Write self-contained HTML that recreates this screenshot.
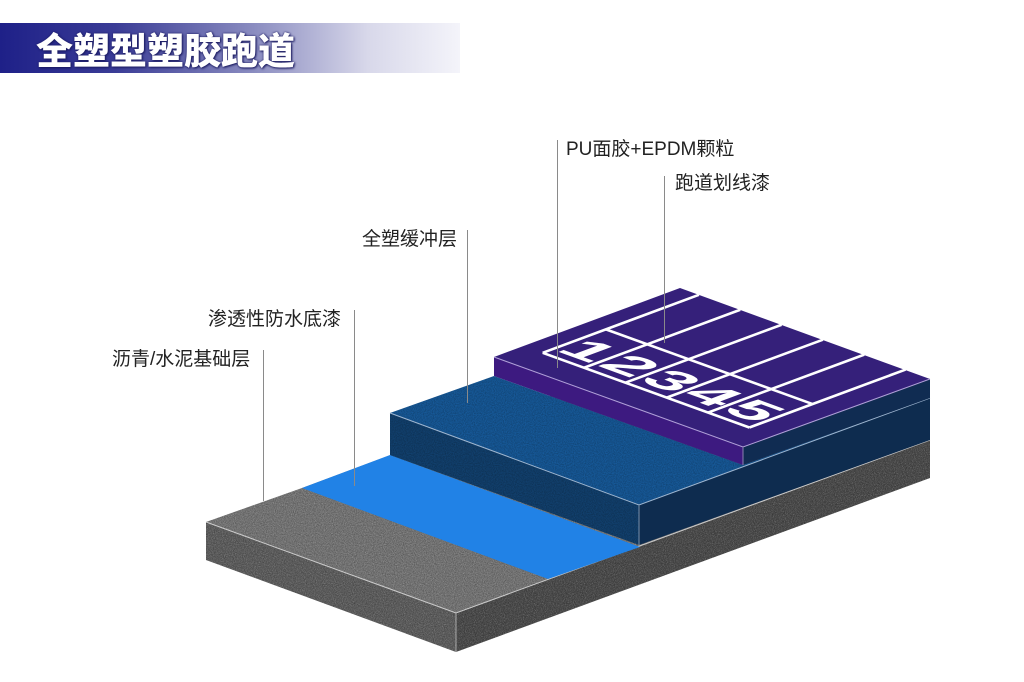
<!DOCTYPE html>
<html><head><meta charset="utf-8"><style>
html,body{margin:0;padding:0;background:#fff;width:1024px;height:682px;overflow:hidden}
.lbl{position:absolute;font-family:"Liberation Sans","Noto Sans CJK SC",sans-serif;font-size:19px;color:#222;white-space:nowrap;line-height:22px}
</style></head><body>
<div style="position:absolute;left:0;top:23px;width:460px;height:50px;background:linear-gradient(90deg,#1e2088 0%,#3a3c96 25%,#8a8cc0 55%,#d8d8ea 80%,#f4f4fa 100%)"></div>
<div style="position:absolute;left:36px;top:27px;font-family:'Noto Sans CJK SC',sans-serif;font-weight:900;font-size:37px;line-height:42px;color:#fff;letter-spacing:0;text-shadow:0 0 2px #1a1a60,1px 1px 2px #1a1a60">全塑型塑胶跑道</div>
<svg width="1024" height="682" style="position:absolute;left:0;top:0">
<defs>
<filter id="n" x="0" y="0" width="100%" height="100%">
<feTurbulence type="fractalNoise" baseFrequency="0.9" numOctaves="2" seed="3"/>
<feColorMatrix type="matrix" values="0 0 0 0 0  0 0 0 0 0  0 0 0 0 0  0 0 0 0.9 -0.25"/>
<feComposite in2="SourceGraphic" operator="in"/>
</filter>
<filter id="w" x="0" y="0" width="100%" height="100%">
<feTurbulence type="fractalNoise" baseFrequency="1.1" numOctaves="2" seed="9"/>
<feColorMatrix type="matrix" values="0 0 0 0 1  0 0 0 0 1  0 0 0 0 1  0 0 0 1.2 -0.55"/>
<feComposite in2="SourceGraphic" operator="in"/>
</filter>
</defs>
<g>
<polygon points="206,522 302,488 700,340 930,420 930,440 456,613" fill="#7a7a7a"/>
<polygon points="206,522 456,613 456,652 206,560" fill="#606060"/>
<polygon points="456,613 930,440 930,478 456,652" fill="#4c4c4c"/>
<g filter="url(#n)" opacity="0.6"><polygon points="206,522 302,488 700,340 930,420 930,440 456,613" fill="#000"/><polygon points="206,522 456,613 456,652 206,560" fill="#000"/><polygon points="456,613 930,440 930,478 456,652" fill="#000"/></g>
<g filter="url(#w)" opacity="0.5"><polygon points="206,522 302,488 700,340 930,420 930,440 456,613" fill="#000"/><polygon points="206,522 456,613 456,652 206,560" fill="#000"/><polygon points="456,613 930,440 930,478 456,652" fill="#000"/></g>
<polyline points="206,522 456,613 930,440" fill="none" stroke="#ccc" stroke-width="1"/>
<line x1="456" y1="613" x2="456" y2="652" stroke="#aaa" stroke-width="1"/>
</g>
<polygon points="302,488 390,455 640,547 548,579" fill="#2182e6"/>
<polygon points="390,413 494,376 743,465 930,398 639,505" fill="#175a9a"/>
<polygon points="390,413 639,505 639,545 390,455" fill="#12416f"/>
<polygon points="639,505 930,398 930,440 639,545" fill="#0e2c4f"/>
<g filter="url(#n)" opacity="0.5"><polygon points="390,413 494,376 743,465 930,398 639,505" fill="#000"/><polygon points="390,413 639,505 639,545 390,455" fill="#000"/></g>
<polyline points="390,413 639,505 930,398" fill="none" stroke="#9fb6d0" stroke-width="1"/>
<line x1="639" y1="505" x2="639" y2="545" stroke="#7a90aa" stroke-width="1"/>
<polygon points="494,357 680,288 930,379 743,447" fill="#35207a"/>
<polygon points="494,357 743,447 743,465 494,376" fill="#3d1a80"/>
<polygon points="743,447 930,379 930,398 743,465" fill="#102c52"/>
<polyline points="494,357 743,447 930,379" fill="none" stroke="#b0a0d8" stroke-width="1"/>
<line x1="743" y1="447" x2="743" y2="465" stroke="#8a80b0" stroke-width="1"/>
<g transform="matrix(2.49,0.90,-1.86,0.69,494,357)" fill="none" stroke="#fff" stroke-width="2.6">
<line x1="7.6" y1="-16" x2="90.6" y2="-16" vector-effect="non-scaling-stroke"/>
<line x1="7.6" y1="-50" x2="90.6" y2="-50" vector-effect="non-scaling-stroke"/>
<line x1="7.6" y1="-16" x2="7.6" y2="-100" vector-effect="non-scaling-stroke"/>
<line x1="24.2" y1="-16" x2="24.2" y2="-100" vector-effect="non-scaling-stroke"/>
<line x1="40.8" y1="-16" x2="40.8" y2="-100" vector-effect="non-scaling-stroke"/>
<line x1="57.4" y1="-16" x2="57.4" y2="-100" vector-effect="non-scaling-stroke"/>
<line x1="74" y1="-16" x2="74" y2="-100" vector-effect="non-scaling-stroke"/>
<line x1="90.6" y1="-16" x2="90.6" y2="-100" vector-effect="non-scaling-stroke"/>
</g>
<g transform="matrix(2.49,0.90,-1.86,0.69,494,357)" fill="#fff" font-family="Liberation Sans,sans-serif" font-weight="bold" font-size="26" text-anchor="middle">
<text x="15.9" y="-21">1</text><text x="32.5" y="-21">2</text><text x="49.1" y="-21">3</text><text x="65.7" y="-21">4</text><text x="82.3" y="-21">5</text>
</g>
<g stroke="#8a8a8a" stroke-width="1">
<line x1="557.5" y1="140" x2="557.5" y2="368"/>
<line x1="664.5" y1="176" x2="664.5" y2="343"/>
<line x1="467.5" y1="230" x2="467.5" y2="403"/>
<line x1="354.5" y1="310" x2="354.5" y2="486"/>
<line x1="263.5" y1="350" x2="263.5" y2="501"/>
</g>
</svg>
<div class="lbl" style="left:566px;top:139px">PU面胶+EPDM颗粒</div>
<div class="lbl" style="left:675px;top:173px">跑道划线漆</div>
<div class="lbl" style="left:362px;top:229px">全塑缓冲层</div>
<div class="lbl" style="left:208px;top:309px">渗透性防水底漆</div>
<div class="lbl" style="left:112px;top:349px">沥青/水泥基础层</div>
</body></html>
